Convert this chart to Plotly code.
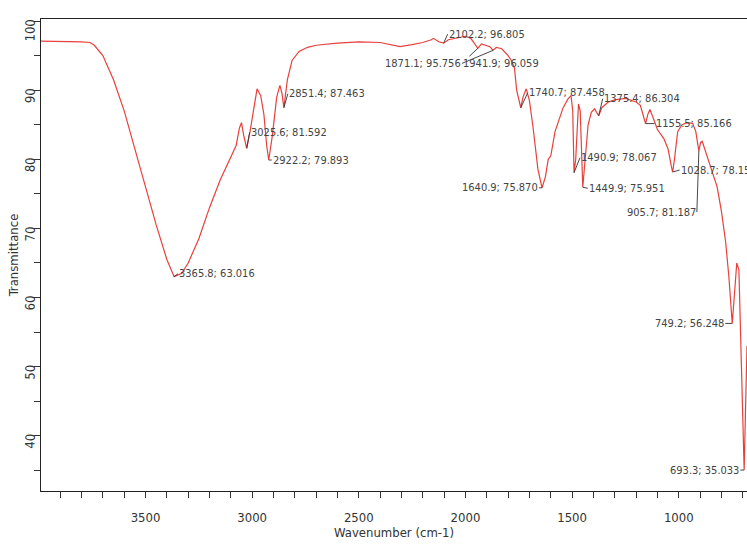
import plotly.graph_objects as go

# Spectrum (wavenumber cm-1, transmittance %)
wavenumber = [3990, 3900, 3800, 3760, 3740, 3700, 3650, 3600, 3550, 3500, 3450, 3400,
              3365.8, 3330, 3300, 3250, 3200, 3150, 3100, 3075, 3060, 3050, 3040, 3025.6,
              3010, 2990, 2977, 2960, 2945, 2932, 2922.2, 2905, 2885, 2870, 2860, 2851.4,
              2835, 2813, 2780, 2740, 2700, 2600, 2500, 2400, 2307, 2250, 2200, 2160, 2150,
              2125, 2102.2, 2080, 2040, 2000, 1975, 1955, 1941.9, 1925, 1900, 1885, 1871.1,
              1855, 1830, 1800, 1785, 1770, 1760, 1748, 1740.7, 1730, 1715, 1700, 1683,
              1660, 1640.9, 1625, 1612, 1600, 1580, 1543, 1520, 1505, 1497, 1490.9, 1483,
              1470, 1462, 1449.9, 1440, 1425, 1410, 1395, 1375.4, 1360, 1330, 1300, 1250,
              1200, 1180, 1165, 1155.5, 1145, 1135, 1120, 1100, 1070, 1050, 1035, 1028.7,
              1020, 1005, 985, 960, 935, 920, 905.7, 898, 890, 870, 850, 820, 800, 780,
              765, 755, 749.2, 740, 728, 718, 705, 693.3, 686, 680]
transmittance = [97.1, 97.1, 97.0, 96.9, 96.5, 95.0, 91.5, 87.0, 81.5, 76.0, 70.5, 65.5,
                 63.016, 63.5, 65.0, 68.5, 73.0, 77.0, 80.5, 82.0, 84.5, 85.3, 83.5, 81.592,
                 84.0, 88.0, 90.2, 89.2, 86.5, 82.0, 79.893, 83.5, 89.0, 90.7, 89.5, 87.463,
                 91.5, 94.3, 95.6, 96.2, 96.5, 96.8, 97.0, 96.9, 96.3, 96.6, 96.9, 97.3, 97.5,
                 97.0, 96.805, 97.3, 97.6, 97.8, 97.5, 96.6, 96.059, 96.7, 96.5, 96.3, 95.756,
                 96.2, 96.0, 95.0, 94.3, 93.2, 90.0, 88.2, 87.458, 89.0, 90.2, 88.5, 84.6,
                 78.5, 75.870, 77.5, 80.0, 80.5, 84.0, 87.4, 88.7, 89.2, 87.0, 78.067, 80.0,
                 88.0, 87.0, 75.951, 80.0, 85.0, 86.8, 87.3, 86.304, 87.5, 88.3, 88.6, 88.8,
                 88.3, 87.8, 86.0, 85.166, 86.5, 87.2, 86.0, 84.3, 83.0, 81.5, 79.0, 78.159,
                 80.0, 84.0, 85.0, 85.3, 85.2, 84.0, 81.187, 82.4, 82.6, 80.8, 79.0, 76.0,
                 72.5, 68.0, 63.0, 58.5, 56.248, 60.0, 65.0, 64.0, 50.0, 35.033, 45.0, 53.0]

# Peak labels: wavenumber, transmittance
peak_wn = [3365.8, 3025.6, 2922.2, 2851.4, 2102.2, 1871.1, 1941.9, 1740.7, 1640.9,
           1490.9, 1449.9, 1375.4, 1155.5, 1028.7, 905.7, 749.2, 693.3]
peak_t = [63.016, 81.592, 79.893, 87.463, 96.805, 95.756, 96.059, 87.458, 75.870,
          78.067, 75.951, 86.304, 85.166, 78.159, 81.187, 56.248, 35.033]
peak_text = ["3365.8; 63.016", "3025.6; 81.592", "2922.2; 79.893", "2851.4; 87.463",
             "2102.2; 96.805", "1871.1; 95.756", "1941.9; 96.059", "1740.7; 87.458",
             "1640.9; 75.870", "1490.9; 78.067", "1449.9; 75.951", "1375.4; 86.304",
             "1155.5; 85.166", "1028.7; 78.159", "905.7; 81.187", "749.2; 56.248",
             "693.3; 35.033"]
# label placement (pixel offsets from the point, anchor side)
label_ax = [4, 3, 3, 4, 4, -31, -16, 7, -3, 6, 5, 4, 9, 7, -2, -7, -4]
label_ay = [-3, -16, 0, -14, -9, 13, 15, -15, 0, -15, 1, -17, 0, -2, 61, 0, 0]
label_anchor = ["left", "left", "left", "left", "left", "right", "left", "left", "right",
                "left", "left", "left", "left", "left", "right", "right", "right"]

xtick_vals = [3500, 3000, 2500, 2000, 1500, 1000]
ytick_vals = [40, 50, 60, 70, 80, 90, 100]

FONT = "Liberation Sans Narrow, Arial Narrow, DejaVu Sans Condensed, sans-serif"

fig = go.Figure()
fig.add_trace(go.Scatter(x=wavenumber, y=transmittance, mode="lines",
                         line=dict(color="#e8413c", width=1.2), hoverinfo="x+y"))

for wn, t, txt, ax, ay, anc in zip(peak_wn, peak_t, peak_text, label_ax, label_ay, label_anchor):
    fig.add_annotation(x=wn, y=t, text=txt, showarrow=True, arrowhead=0, arrowwidth=0.9,
                       arrowcolor="#333333", standoff=0, ax=ax, ay=ay, xanchor=anc,
                       yanchor="middle", borderpad=0,
                       font=dict(family=FONT, size=11, color="#444444"))

fig.update_layout(
    width=747, height=544,
    margin=dict(l=41, r=0, t=19, b=53, autoexpand=False),
    paper_bgcolor="white", plot_bgcolor="white",
    showlegend=False,
    font=dict(family=FONT, size=12, color="#333333"),
)
fig.update_xaxes(range=[3990, 680], tickvals=xtick_vals, ticks="outside", ticklen=6,
                 tickcolor="#333", minor=dict(dtick=100, ticks="outside", ticklen=6,
                                              tickcolor="#333"),
                 showline=True, linecolor="#222", linewidth=1.2, mirror=True,
                 showgrid=False, zeroline=False, automargin=False,
                 ticklabelstandoff=8,
                 title=dict(text="Wavenumber (cm-1)", standoff=2,
                            font=dict(family=FONT, size=13, color="#333")),
                 tickfont=dict(family=FONT, size=13, color="#333"))
fig.update_yaxes(range=[32, 100.3], tickvals=ytick_vals, ticks="outside", ticklen=6,
                 tickcolor="#333", minor=dict(dtick=5, ticks="outside", ticklen=6,
                                              tickcolor="#333"),
                 tickangle=-89, ticklabelstandoff=3,
                 showline=True, linecolor="#222", linewidth=1.2, mirror=False,
                 showgrid=False, zeroline=False, automargin=False,
                 title=dict(text="Transmittance", standoff=0,
                            font=dict(family=FONT, size=13, color="#333")),
                 tickfont=dict(family=FONT, size=13, color="#333"))

fig.write_html("out.html", config={"displayModeBar": False},
               post_script="document.body.style.margin='0';")
